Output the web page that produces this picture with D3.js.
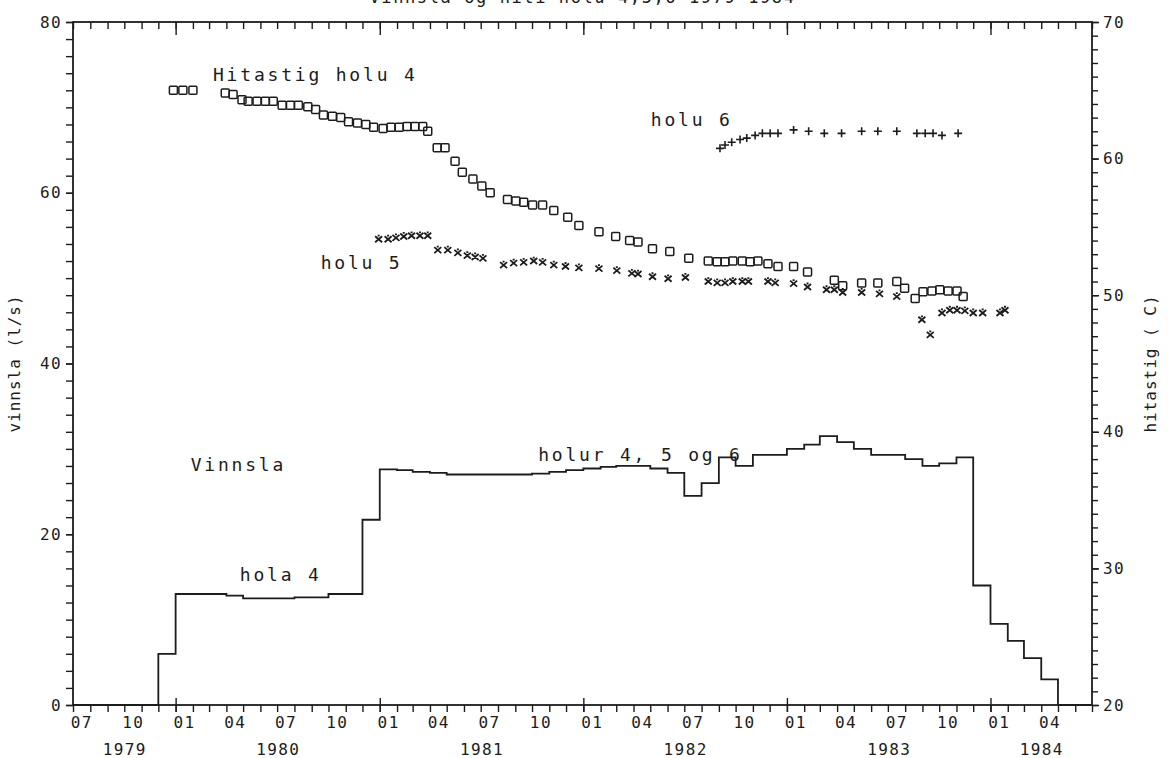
<!DOCTYPE html>
<html>
<head>
<meta charset="utf-8">
<script src="https://cdn.jsdelivr.net/npm/d3@7"></script>
<style>
  body { margin: 0; background: #fff; }
</style>
</head>
<body>
<div id="chart"></div>
<script>
// monthly production (vinnsla, l/s), one value per calendar month
var flowMonths = [
  "1979-07","1979-08","1979-09","1979-10","1979-11","1979-12",
  "1980-01","1980-02","1980-03","1980-04","1980-05","1980-06","1980-07","1980-08","1980-09","1980-10","1980-11","1980-12",
  "1981-01","1981-02","1981-03","1981-04","1981-05","1981-06","1981-07","1981-08","1981-09","1981-10","1981-11","1981-12",
  "1982-01","1982-02","1982-03","1982-04","1982-05","1982-06","1982-07","1982-08","1982-09","1982-10","1982-11","1982-12",
  "1983-01","1983-02","1983-03","1983-04","1983-05","1983-06","1983-07","1983-08","1983-09","1983-10","1983-11","1983-12",
  "1984-01","1984-02","1984-03","1984-04","1984-05","1984-06"];
var flowValues = [
  0, 0, 0, 0, 0, 6,
  13, 13, 13, 12.8, 12.5, 12.5, 12.5, 12.6, 12.6, 13, 13, 21.7,
  27.6, 27.5, 27.3, 27.2, 27.0, 27.0, 27.0, 27.0, 27.0, 27.1, 27.3, 27.5,
  27.7, 27.9, 28.0, 28.0, 27.7, 27.2, 24.5, 26.0, 29.0, 28.0, 29.3, 29.3,
  30.0, 30.5, 31.5, 30.8, 30.0, 29.3, 29.3, 28.8, 28.0, 28.3, 29.0, 14.0,
  9.5, 7.5, 5.5, 3.0, 0, 0];

// temperature holu 4 (squares), deg C
var temp4Dates = ["1979-12-28","1980-01-14","1980-02-01","1980-03-30","1980-04-13","1980-04-29","1980-05-10","1980-05-26","1980-06-10","1980-06-24",
  "1980-07-10","1980-07-25","1980-08-08","1980-08-25","1980-09-08","1980-09-22","1980-10-08","1980-10-23","1980-11-06","1980-11-22",
  "1980-12-07","1980-12-21","1981-01-07","1981-01-21","1981-02-05","1981-02-19","1981-03-05","1981-03-19","1981-03-28","1981-04-14",
  "1981-04-28","1981-05-16","1981-05-29","1981-06-17","1981-07-03","1981-07-18","1981-08-18","1981-09-02","1981-09-16","1981-10-02",
  "1981-10-20","1981-11-09","1981-12-04","1981-12-24","1982-01-29","1982-02-28","1982-03-25","1982-04-09","1982-05-05","1982-06-05",
  "1982-07-09","1982-08-13","1982-08-29","1982-09-12","1982-09-26","1982-10-13","1982-10-27","1982-11-10","1982-11-28","1982-12-16",
  "1983-01-13","1983-02-07","1983-03-27","1983-04-11","1983-05-15","1983-06-13","1983-07-17","1983-07-31","1983-08-19","1983-09-02",
  "1983-09-18","1983-10-02","1983-10-17","1983-11-02","1983-11-13"];
var temp4Values = [65.0, 65.0, 65.0, 64.8, 64.7, 64.3, 64.2, 64.2, 64.2, 64.2,
  63.9, 63.9, 63.9, 63.8, 63.6, 63.2, 63.1, 63.0, 62.7, 62.6,
  62.5, 62.3, 62.2, 62.3, 62.3, 62.35, 62.35, 62.35, 62.0, 60.8,
  60.8, 59.8, 59.0, 58.5, 58.0, 57.5, 57.0, 56.9, 56.8, 56.6,
  56.6, 56.2, 55.7, 55.1, 54.65, 54.3, 54.0, 53.9, 53.4, 53.2,
  52.7, 52.5, 52.45, 52.45, 52.5, 52.5, 52.45, 52.5, 52.3, 52.1,
  52.1, 51.7, 51.1, 50.7, 50.9, 50.9, 51.0, 50.5, 49.75, 50.25,
  50.3, 50.4, 50.3, 50.3, 49.9];

// temperature holu 5 (crosses)
var temp5Dates = ["1980-12-30","1981-01-16","1981-01-30","1981-02-13","1981-02-27","1981-03-14","1981-03-28","1981-04-15","1981-05-03","1981-05-21",
  "1981-06-07","1981-06-21","1981-07-05","1981-08-11","1981-08-29","1981-09-16","1981-10-04","1981-10-20","1981-11-09","1981-11-30",
  "1981-12-24","1982-01-29","1982-03-02","1982-03-29","1982-04-09","1982-05-05","1982-06-02","1982-07-03","1982-08-13","1982-08-29",
  "1982-09-12","1982-09-26","1982-10-13","1982-10-24","1982-11-28","1982-12-11","1983-01-13","1983-02-07","1983-03-13","1983-03-27",
  "1983-04-11","1983-05-15","1983-06-16","1983-07-17","1983-08-31","1983-09-15","1983-10-06","1983-10-20","1983-11-02","1983-11-16",
  "1983-12-01","1983-12-18","1984-01-18","1984-01-27"];
var temp5Values = [54.1, 54.1, 54.2, 54.3, 54.35, 54.35, 54.35, 53.3, 53.3, 53.1,
  52.9, 52.8, 52.7, 52.2, 52.35, 52.4, 52.5, 52.4, 52.2, 52.1,
  52.0, 51.95, 51.8, 51.6, 51.55, 51.35, 51.2, 51.3, 51.0, 50.9,
  50.9, 51.0, 51.0, 51.0, 51.0, 50.9, 50.85, 50.6, 50.4, 50.4,
  50.2, 50.2, 50.1, 49.9, 48.2, 47.1, 48.7, 48.9, 48.9, 48.85,
  48.7, 48.7, 48.7, 48.9];

// temperature holu 6 (plus signs)
var temp6Dates = ["1982-09-03","1982-09-12","1982-09-24","1982-10-09","1982-10-21","1982-11-05","1982-11-18","1982-12-02","1982-12-16","1983-01-13",
  "1983-02-09","1983-03-09","1983-04-09","1983-05-15","1983-06-13","1983-07-17","1983-08-22","1983-09-06","1983-09-20","1983-10-06","1983-11-04"];
var temp6Values = [60.75, 61.0, 61.2, 61.4, 61.5, 61.7, 61.85, 61.85, 61.85, 62.1,
  62.0, 61.85, 61.85, 62.0, 62.0, 62.0, 61.85, 61.85, 61.85, 61.7, 61.85];

// axis labels
var xLabelMonths = ["1979-07","1979-10","1980-01","1980-04","1980-07","1980-10","1981-01","1981-04","1981-07","1981-10",
  "1982-01","1982-04","1982-07","1982-10","1983-01","1983-04","1983-07","1983-10","1984-01","1984-04"];
var xYears = [1979, 1980, 1981, 1982, 1983, 1984];
var yLeftTicks = [0, 20, 40, 60, 80];
var yRightTicks = [20, 30, 40, 50, 60, 70];

// text annotations, anchored in data units (date, vinnsla)
var notes = [
  { text: "Hitastig holu 4", date: "1980-03-08", value: 73.1 },
  { text: "holu 6", date: "1982-05-02", value: 67.8 },
  { text: "holu 5", date: "1980-09-17", value: 51.1 },
  { text: "Vinnsla", date: "1980-01-28", value: 27.4 },
  { text: "holur 4, 5 og 6", date: "1981-10-12", value: 28.6 },
  { text: "hola 4", date: "1980-04-25", value: 14.5 }
];

var FONT = "'DejaVu Sans Mono', monospace";
var INK = "#1c1c1c";

var width = 1168, height = 758;
var plotLeft = 73, plotRight = 1092, plotTop = 22, plotBottom = 705;

var parseDay = d3.timeParse("%Y-%m-%d");
var parseMonth = d3.timeParse("%Y-%m");

var svg = d3.select("#chart").append("svg")
  .attr("width", width)
  .attr("height", height)
  .style("background", "#fff");

var x = d3.scaleTime()
  .domain([new Date(1979, 6, 1), new Date(1984, 6, 1)])
  .range([plotLeft, plotRight]);
var yL = d3.scaleLinear().domain([0, 80]).range([plotBottom, plotTop]);
var yR = d3.scaleLinear().domain([20, 70]).range([plotBottom, plotTop]);

var allMonths = d3.timeMonth.range(new Date(1979, 6, 1), new Date(1984, 6, 2));
var januaries = allMonths.filter(function (d) { return d.getMonth() === 0; });

function clean(g) {
  g.select(".domain").remove();
  g.selectAll("line").attr("stroke", INK).attr("stroke-width", 1.4);
  g.attr("font-family", FONT).attr("font-size", 16);
  g.selectAll("text").attr("fill", INK).style("letter-spacing", "1.4px");
}

// bottom axis: monthly ticks, January ticks cross the axis
svg.append("g")
  .attr("transform", "translate(0," + plotBottom + ")")
  .call(d3.axisBottom(x).tickValues(allMonths).tickSize(7).tickFormat(""))
  .call(clean);
svg.append("g")
  .attr("transform", "translate(0," + (plotBottom - 7) + ")")
  .call(d3.axisBottom(x).tickValues(januaries).tickSize(14).tickFormat(""))
  .call(clean);
svg.append("g")
  .attr("transform", "translate(0," + plotBottom + ")")
  .call(d3.axisBottom(x)
    .tickValues(xLabelMonths.map(function (m) { return d3.timeDay.offset(parseMonth(m), 15); }))
    .tickSize(0).tickPadding(12)
    .tickFormat(d3.timeFormat("%m")))
  .call(clean);

// year labels centred on the visible part of each year
svg.append("g")
  .attr("transform", "translate(0," + plotBottom + ")")
  .call(d3.axisBottom(x)
    .tickValues(xYears.map(function (yr) {
      var a = Math.max(new Date(yr, 0, 1), x.domain()[0]);
      var b = Math.min(new Date(yr + 1, 0, 1), x.domain()[1]);
      return new Date((a + b) / 2);
    }))
    .tickSize(0).tickPadding(39)
    .tickFormat(d3.timeFormat("%Y")))
  .call(clean);

// top axis: ticks hang inside
svg.append("g")
  .attr("transform", "translate(0," + plotTop + ")")
  .call(d3.axisBottom(x).tickValues(allMonths).tickSize(7).tickFormat(""))
  .call(clean);
svg.append("g")
  .attr("transform", "translate(0," + plotTop + ")")
  .call(d3.axisBottom(x).tickValues(januaries).tickSize(13).tickFormat(""))
  .call(clean);

// left axis
svg.append("g")
  .attr("transform", "translate(" + plotLeft + ",0)")
  .call(d3.axisLeft(yL).tickValues(d3.range(0, 81, 2)).tickSize(7).tickFormat(""))
  .call(clean);
svg.append("g")
  .attr("transform", "translate(" + plotLeft + ",0)")
  .call(d3.axisLeft(yL).tickValues(yLeftTicks).tickSize(7).tickPadding(4))
  .call(clean);

// right axis
svg.append("g")
  .attr("transform", "translate(" + plotRight + ",0)")
  .call(d3.axisRight(yR).tickValues(d3.range(20, 71, 1)).tickSize(6).tickFormat(""))
  .call(clean);
svg.append("g")
  .attr("transform", "translate(" + plotRight + ",0)")
  .call(d3.axisRight(yR).tickValues(yRightTicks).tickSize(7).tickPadding(4))
  .call(clean);

// frame
svg.append("rect")
  .attr("x", plotLeft).attr("y", plotTop)
  .attr("width", plotRight - plotLeft).attr("height", plotBottom - plotTop)
  .attr("fill", "none").attr("stroke", INK).attr("stroke-width", 1.8);

// axis titles
svg.append("text")
  .attr("transform", "translate(20," + ((plotTop + plotBottom) / 2) + ") rotate(-90)")
  .attr("text-anchor", "middle")
  .attr("font-family", FONT).attr("font-size", 16).attr("fill", INK)
  .style("letter-spacing", "1px")
  .text("vinnsla (l/s)");
svg.append("text")
  .attr("transform", "translate(1156," + ((plotTop + plotBottom) / 2) + ") rotate(-90)")
  .attr("text-anchor", "middle")
  .attr("font-family", FONT).attr("font-size", 16).attr("fill", INK)
  .style("letter-spacing", "1px")
  .text("hitastig ( C)");

// title, cut by the top edge as in the scan
svg.append("text")
  .attr("x", (plotLeft + plotRight) / 2).attr("y", 3)
  .attr("text-anchor", "middle")
  .attr("font-family", FONT).attr("font-size", 17).attr("fill", INK)
  .style("letter-spacing", "1.6px")
  .text("Vinnsla og hiti holu 4,5,6 1979-1984");

// production step line
var flow = flowMonths.map(function (m, i) { return [parseMonth(m), flowValues[i]]; });
flow.push([x.domain()[1], flowValues[flowValues.length - 1]]);

svg.append("path")
  .datum(flow)
  .attr("fill", "none")
  .attr("stroke", INK)
  .attr("stroke-width", 1.8)
  .attr("d", d3.line()
    .curve(d3.curveStepAfter)
    .x(function (d) { return x(d[0]); })
    .y(function (d) { return yL(d[1]); }));

// temperature markers
function pts(dates, values) {
  return dates.map(function (d, i) { return [parseDay(d), values[i]]; });
}

svg.append("g").selectAll("rect")
  .data(pts(temp4Dates, temp4Values))
  .enter().append("rect")
  .attr("x", function (d) { return x(d[0]) - 4; })
  .attr("y", function (d) { return yR(d[1]) - 4; })
  .attr("width", 8).attr("height", 8)
  .attr("rx", 1)
  .attr("fill", "none").attr("stroke", INK).attr("stroke-width", 1.5);

svg.append("g").selectAll("path")
  .data(pts(temp5Dates, temp5Values))
  .enter().append("path")
  .attr("transform", function (d) { return "translate(" + x(d[0]) + "," + yR(d[1]) + ")"; })
  .attr("d", "M-3.5,-3L3.5,3M-3.5,3L3.5,-3M-1,-3.5L1,-3.5")
  .attr("fill", "none").attr("stroke", INK).attr("stroke-width", 1.8);

svg.append("g").selectAll("path")
  .data(pts(temp6Dates, temp6Values))
  .enter().append("path")
  .attr("transform", function (d) { return "translate(" + x(d[0]) + "," + yR(d[1]) + ")"; })
  .attr("d", "M-4,0L4,0M0,-4L0,4")
  .attr("fill", "none").attr("stroke", INK).attr("stroke-width", 1.6);

// annotations
svg.append("g").selectAll("text")
  .data(notes)
  .enter().append("text")
  .attr("x", function (d) { return x(parseDay(d.date)); })
  .attr("y", function (d) { return yL(d.value); })
  .attr("font-family", FONT).attr("font-size", 18).attr("fill", INK)
  .style("letter-spacing", "2.8px")
  .text(function (d) { return d.text; });
</script>
</body>
</html>
